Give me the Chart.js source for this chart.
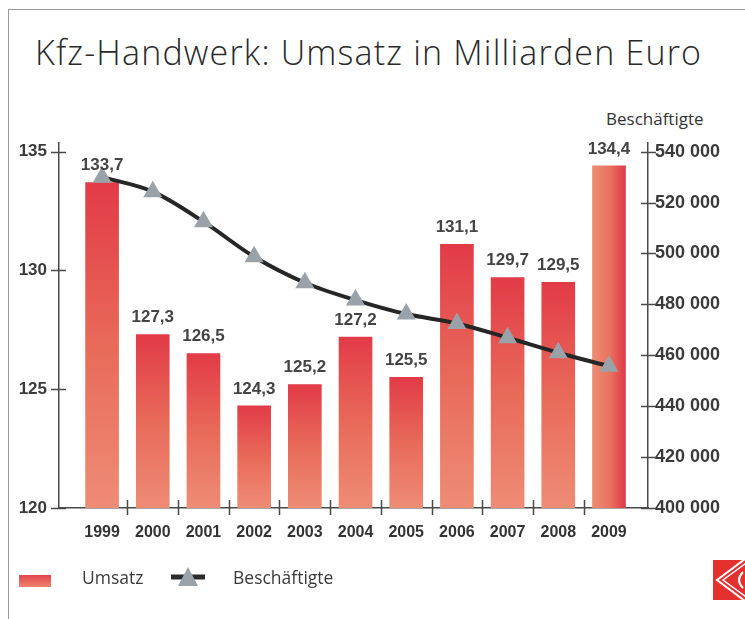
<!DOCTYPE html>
<html>
<head>
<meta charset="utf-8">
<script src="https://cdn.jsdelivr.net/npm/chart.js@4.4.1/dist/chart.umd.min.js"></script>
<style>
  html, body { margin: 0; padding: 0; background: #fff; }
  #wrap { position: relative; width: 745px; height: 619px; overflow: hidden; font-family: "Open Sans", "Liberation Sans", sans-serif; color: #333; }
  #frame { position: absolute; left: 8px; top: 9px; width: 760px; height: 640px; border-left: 1.5px solid #9a9a9a; border-top: 1.5px solid #9a9a9a; }
  #chartBox { position: absolute; left: 0; top: 0; width: 745px; height: 619px; }
  .txt { position: absolute; white-space: nowrap; line-height: 1; }
  #title { left: 35px; top: 35px; font-size: 34px; font-weight: 300; color: #2a2a2a; }
  #axisTitle { left: 606px; top: 110px; font-size: 17px; color: #333; }
  .legText { top: 569px; font-size: 17.5px; color: #3a3a3a; }
  #swatch { position: absolute; left: 19px; top: 575px; width: 32px; height: 12px; background: linear-gradient(to bottom, #e3444b, #ee8170); }
  #legLine { position: absolute; left: 168px; top: 563px; }
  #logo { position: absolute; left: 713px; top: 560px; }
</style>
</head>
<body>
<div id="wrap">
  <div id="frame"></div>
  <div id="title" class="txt">Kfz-Handwerk: Umsatz in Milliarden Euro</div>
  <div id="axisTitle" class="txt">Beschäftigte</div>
  <div id="chartBox"><canvas id="chart"></canvas></div>
  <div id="swatch"></div>
  <div class="txt legText" style="left:82px">Umsatz</div>
  <svg id="legLine" width="40" height="28">
    <line x1="3" y1="14" x2="37" y2="14" stroke="#2a2a2a" stroke-width="5"/>
    <polygon points="20,4 30,23 10,23" fill="#9aa2a9"/>
  </svg>
  <div class="txt legText" style="left:233px">Beschäftigte</div>
  <svg id="logo" width="32" height="40">
    <rect x="0" y="0" width="32" height="40" fill="#e3312f"/>
    <polygon points="4,20 36,-4 68,20 36,44" fill="none" stroke="#fff" stroke-width="2"/>
    <polygon points="10,20 36,1 62,20 36,39" fill="none" stroke="#fff" stroke-width="1.5"/>
    <path d="M30,12 Q22,20 30,28" fill="none" stroke="#fff" stroke-width="2"/>
  </svg>
</div>
<script>
const years = ['1999', '2000', '2001', '2002', '2003', '2004', '2005', '2006', '2007', '2008', '2009'];
const umsatz = [133.7, 127.3, 126.5, 124.3, 125.2, 127.2, 125.5, 131.1, 129.7, 129.5, 134.4];
const beschaeftigte = [530000, 524300, 512500, 498700, 488500, 481700, 476200, 472500, 466900, 461000, 455700];
const umsatzTicks = [120, 125, 130, 135];
const beschTicks = [400000, 420000, 440000, 460000, 480000, 500000, 520000, 540000];

// titel auf breite bringen
const title = document.getElementById('title');
const tw = title.getBoundingClientRect().width;
title.style.letterSpacing = ((666 - tw) / (title.textContent.length - 1)) + 'px';

Chart.defaults.font.family = '"Liberation Sans", Arial, sans-serif';

function barColor(context) {
    const chart = context.chart;
    const area = chart.chartArea;
    if (!area) return '#e5554f';
    const i = context.dataIndex;
    const x = chart.scales.x.getPixelForValue(i);
    const top = chart.scales.y.getPixelForValue(umsatz[i]);
    let g;
    if (i === years.length - 1) {
        g = chart.ctx.createLinearGradient(x - 16, 0, x + 16, 0);
        g.addColorStop(0, '#ed8c74');
        g.addColorStop(0.55, '#e8705e');
        g.addColorStop(1, '#e13a47');
    } else {
        g = chart.ctx.createLinearGradient(0, top, 0, area.bottom);
        g.addColorStop(0, '#e23b47');
        g.addColorStop(0.5, '#e86a59');
        g.addColorStop(1, '#ee8c75');
    }
    return g;
}

const barLabels = {
    id: 'barLabels',
    afterDatasetsDraw(chart) {
        const meta = chart.getDatasetMeta(0);
        const ctx = chart.ctx;
        ctx.save();
        ctx.font = 'bold 17px "Liberation Sans", Arial, sans-serif';
        ctx.fillStyle = '#444';
        ctx.textAlign = 'center';
        ctx.textBaseline = 'middle';
        meta.data.forEach((bar, i) => {
            ctx.fillText(umsatz[i].toFixed(1).replace('.', ','), bar.x, bar.y - 17);
        });
        ctx.restore();
    }
};

const crossTicks = {
    id: 'crossTicks',
    afterDraw(chart) {
        const { ctx, scales: { x, y, y2 } } = chart;
        ctx.save();
        ctx.strokeStyle = '#4a4a4a';
        ctx.lineWidth = 1.5;
        ctx.beginPath();
        y.ticks.forEach(t => {
            const py = Math.round(y.getPixelForValue(t.value)) + 0.5;
            ctx.moveTo(y.right - 8, py); ctx.lineTo(y.right + 7, py);
        });
        y2.ticks.forEach(t => {
            const py = Math.round(y2.getPixelForValue(t.value)) + 0.5;
            ctx.moveTo(y2.left - 7, py); ctx.lineTo(y2.left + 8, py);
        });
        for (let i = 0; i < years.length - 1; i++) {
            const px = Math.round(x.getPixelForValue(i + 0.5)) + 0.5;
            ctx.moveTo(px, x.top - 8); ctx.lineTo(px, x.top + 7);
        }
        ctx.stroke();
        ctx.restore();
    }
};

const ctx = document.getElementById('chart').getContext('2d');
new Chart(ctx, {
    type: 'bar',
    data: {
        datasets: [{
            label: 'Umsatz',
            data: umsatz.map((v, i) => ({ x: i, y: v })),
            backgroundColor: barColor,
            barThickness: 33,
            yAxisID: 'y',
            order: 2
        }, {
            type: 'line',
            label: 'Beschäftigte',
            data: beschaeftigte.map((v, i) => ({ x: i, y: v })),
            yAxisID: 'y2',
            borderColor: '#262626',
            borderWidth: 4,
            cubicInterpolationMode: 'monotone',
            pointStyle: 'triangle',
            pointRadius: 11,
            pointBackgroundColor: '#9aa2a9',
            pointBorderColor: '#9aa2a9',
            pointBorderWidth: 0,
            order: 1
        }]
    },
    options: {
        responsive: true,
        maintainAspectRatio: false,
        animation: false,
        layout: { padding: { left: 7, right: 7, top: 143, bottom: 61 } },
        plugins: {
            legend: { display: false },
            title: { display: false },
            tooltip: { enabled: false }
        },
        scales: {
            x: {
                type: 'linear',
                offset: false,
                min: -0.85,
                max: 10.77,
                grid: { display: false, drawTicks: false, offset: false },
                border: { display: true, color: '#4a4a4a', width: 1.5 },
                ticks: {
                    font: { size: 16, weight: 'bold' },
                    color: '#333',
                    padding: 15,
                    autoSkip: false,
                    maxRotation: 0,
                    callback: (v) => years[v] ?? ''
                },
                afterBuildTicks: (a) => { a.ticks = years.map((_, i) => ({ value: i })); },
                afterFit: (a) => { a.height = 50; }
            },
            y: {
                position: 'left',
                min: 120,
                max: 135.366,
                grid: { display: false, drawTicks: false },
                border: { display: true, color: '#4a4a4a', width: 1.5 },
                ticks: {
                    font: { size: 17, weight: 'bold' },
                    color: '#3a3a3a',
                    padding: 12
                },
                afterBuildTicks: (a) => { a.ticks = umsatzTicks.map(v => ({ value: v })); },
                afterFit: (a) => { a.width = 52; }
            },
            y2: {
                position: 'right',
                min: 400000,
                max: 543418,
                grid: { display: false, drawTicks: false },
                border: { display: true, color: '#4a4a4a', width: 1.5 },
                ticks: {
                    font: { size: 18, weight: 'bold' },
                    color: '#3a3a3a',
                    padding: 7,
                    callback: (v) => String(v).replace(/(\d{3})$/, ' $1')
                },
                afterBuildTicks: (a) => { a.ticks = beschTicks.map(v => ({ value: v })); },
                afterFit: (a) => { a.width = 90; }
            }
        }
    },
    plugins: [barLabels, crossTicks]
});
</script>
</body>
</html>
